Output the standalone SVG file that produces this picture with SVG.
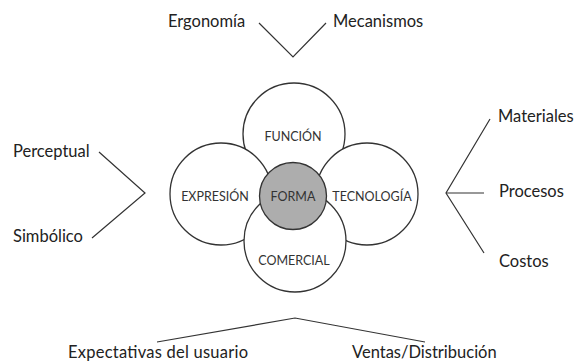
<svg xmlns="http://www.w3.org/2000/svg" width="577" height="363" viewBox="0 0 577 363">
<style>
.lbl{font-family:Lato,"Liberation Sans",sans-serif;font-size:16.5px;fill:#222}
.cl{font-family:Lato,"Liberation Sans",sans-serif;font-size:12.5px;fill:#333;text-anchor:middle}
.c{fill:#fff;stroke:#333;stroke-width:1.3}
.ln{fill:none;stroke:#333;stroke-width:1.2}
</style>
<rect width="577" height="363" fill="#fff"/>
<g id="connectors">
<polyline class="ln" points="259,23 293,57 326,23"/>
<polyline class="ln" points="99,152 145,193 92,238"/>
<polyline class="ln" points="490,119 446,193 484,253"/>
<line class="ln" x1="446" y1="193" x2="484" y2="193"/>
<polyline class="ln" points="157,342 295,318 425,342"/>
</g>
<g id="funcion"><circle class="c" cx="294" cy="134" r="51"/><text class="cl" x="293" y="141">FUNCIÓN</text></g>
<g id="expresion"><circle class="c" cx="221" cy="194" r="51"/><text class="cl" x="215" y="201">EXPRESIÓN</text></g>
<g id="tecnologia"><circle class="c" cx="367" cy="194" r="51"/><text class="cl" x="372" y="201">TECNOLOGÍA</text></g>
<g id="comercial"><circle class="c" cx="295" cy="241" r="51"/><text class="cl" x="294" y="265">COMERCIAL</text></g>
<g id="forma"><circle cx="293" cy="196" r="33.5" fill="#adadad" stroke="#333" stroke-width="1.3"/><text class="cl" x="293" y="201">FORMA</text></g>
<g id="ergonomia"><text class="lbl" x="168" y="27">Ergonomía</text></g>
<g id="mecanismos"><text class="lbl" x="333" y="27">Mecanismos</text></g>
<g id="perceptual"><text class="lbl" x="13" y="157">Perceptual</text></g>
<g id="simbolico"><text class="lbl" x="13" y="242">Simbólico</text></g>
<g id="materiales"><text class="lbl" x="498" y="122">Materiales</text></g>
<g id="procesos"><text class="lbl" x="499" y="197">Procesos</text></g>
<g id="costos"><text class="lbl" x="499" y="267">Costos</text></g>
<g id="expectativas"><text class="lbl" x="68" y="358" textLength="180">Expectativas del usuario</text></g>
<g id="ventas"><text class="lbl" x="352" y="358">Ventas/Distribución</text></g>
</svg>
